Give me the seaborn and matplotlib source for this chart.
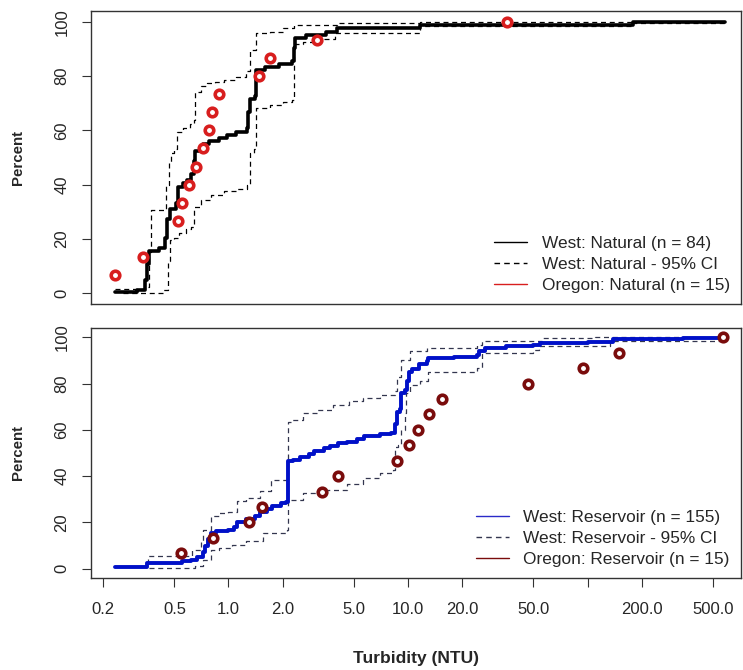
import numpy as np
import pandas as pd
import matplotlib
matplotlib.use("Agg")
import matplotlib.pyplot as plt
from matplotlib.lines import Line2D
import seaborn as sns

# ---------------- data ----------------
# Top panel: West Natural ECDF (n = 84) and 95% CI, Oregon Natural points (n = 15)
nat_x = [0.233, 0.31, 0.345, 0.352, 0.36, 0.41, 0.445, 0.455, 0.47, 0.51, 0.525, 0.56, 0.59,
         0.62, 0.645, 0.655, 0.70, 0.72, 0.78, 0.88, 0.98, 1.10, 1.27, 1.29, 1.31, 1.40, 1.42,
         1.6, 1.9, 2.27, 2.32, 2.36, 2.7, 3.5, 4.0, 11.7, 179.0, 585.0]
nat_p = [0.3, 1.2, 4.8, 10.7, 15.5, 16.7, 20.2, 27.4, 31.0, 33.3, 39.3, 40.5, 41.7,
         44.0, 48.8, 52.4, 53.6, 54.8, 56.0, 57.1, 58.3, 59.5, 60.7, 66.7, 71.4, 72.6, 82.1,
         83.3, 84.5, 85.7, 90.5, 94.0, 95.2, 96.4, 97.6, 98.8, 100.0, 100.0]
nat_hi_x = [0.233, 0.343, 0.36, 0.37, 0.44, 0.45, 0.465, 0.48, 0.50, 0.52, 0.56, 0.61, 0.645,
            0.65, 0.70, 0.76, 0.84, 0.95, 1.1, 1.25, 1.32, 1.42, 1.7, 2.0, 2.33, 4.0, 11.7, 585.0]
nat_hi_p = [1.7, 2.3, 15.0, 30.6, 31.2, 40.0, 48.0, 51.5, 53.0, 59.5, 61.0, 62.5, 63.8,
            74.3, 76.2, 77.4, 78.0, 78.6, 79.8, 81.7, 89.7, 95.8, 96.4, 97.6, 98.9, 99.5, 100.0, 100.0]
nat_lo_x = [0.26, 0.43, 0.46, 0.47, 0.50, 0.53, 0.58, 0.62, 0.645, 0.70, 0.80, 0.95, 1.1, 1.27,
            1.32, 1.38, 1.42, 1.7, 2.0, 2.27, 2.33, 2.6, 3.3, 3.9, 11.7, 179.0, 585.0]
nat_lo_p = [0.0, 1.0, 12.0, 19.5, 20.5, 22.0, 23.5, 24.5, 31.8, 34.3, 36.0, 37.5, 38.5, 39.8,
            51.6, 53.0, 68.1, 69.5, 70.5, 71.2, 92.0, 92.7, 93.5, 95.8, 98.3, 99.7, 99.7]
or_nat_x = [0.233, 0.335, 0.521, 0.553, 0.605, 0.659, 0.718, 0.781, 0.807, 0.885, 1.48, 1.70, 3.12, 35.6]
or_nat_p = [6.67, 13.33, 26.67, 33.33, 40.0, 46.67, 53.33, 60.0, 66.67, 73.33, 80.0, 86.67, 93.33, 100.0]

# Bottom panel: West Reservoir ECDF (n = 155) and 95% CI, Oregon Reservoir points (n = 15)
res_x = [0.233, 0.350, 0.55, 0.62, 0.67, 0.72, 0.74, 0.77, 0.80, 0.85, 1.0, 1.08, 1.12, 1.26,
         1.40, 1.5, 1.63, 1.75, 1.95, 2.1, 2.15, 2.3, 2.5, 2.8, 3.0, 3.4, 3.7, 4.1, 4.6, 5.2,
         5.7, 7.0, 8.0, 8.46, 8.7, 9.0, 9.2, 9.6, 9.9, 10.1, 10.5, 11.5, 12.7, 13.0, 18.0, 24.1,
         25.0, 27.0, 35.0, 50.0, 54.4, 100.0, 139.0, 342.0, 572.0]
res_p = [0.6, 2.6, 3.2, 3.9, 5.2, 7.1, 9.7, 12.9, 15.5, 16.1, 16.8, 18.1, 20.0, 21.3,
         22.6, 24.5, 25.8, 27.1, 28.4, 29.0, 46.5, 47.1, 48.4, 49.7, 51.0, 52.3, 52.9, 54.2, 54.8, 56.1,
         57.4, 58.1, 58.7, 62.6, 67.7, 69.0, 76.1, 77.4, 81.3, 85.2, 86.5, 88.4, 89.7, 91.0, 91.6, 92.3,
         94.2, 95.5, 96.1, 96.8, 97.4, 98.1, 99.4, 99.7, 100.0]
res_hi_x = [0.35, 0.358, 0.503, 0.63, 0.70, 0.72, 0.80, 0.88, 1.0, 1.11, 1.26, 1.5, 1.72, 2.12,
            2.15, 2.25, 2.6, 3.1, 3.8, 4.7, 5.6, 7.0, 8.46, 8.7, 9.2, 10.3, 12.7, 24.1, 25.9,
            55.6, 110.0, 572.0]
res_hi_p = [2.6, 5.3, 5.3, 8.2, 12.0, 16.8, 22.6, 24.1, 24.3, 29.1, 30.5, 33.4, 38.4, 40.6,
            63.6, 64.4, 67.3, 68.7, 70.8, 72.3, 73.7, 75.2, 76.6, 83.0, 90.3, 93.9, 95.3, 96.8, 98.2,
            99.6, 100.0, 100.0]
res_lo_x = [0.36, 0.65, 0.72, 0.80, 0.88, 1.04, 1.26, 1.55, 2.12, 2.15, 2.6, 3.3, 4.6, 5.6, 7.0,
            8.2, 8.5, 8.8, 9.2, 9.6, 9.8, 10.3, 11.6, 13.0, 24.1, 25.9, 50.0, 54.0, 134.0, 572.0]
res_lo_p = [0.4, 1.0, 3.9, 8.2, 8.9, 10.4, 11.8, 15.4, 16.8, 29.8, 32.7, 34.1, 36.5, 39.0, 41.3,
            42.8, 52.8, 53.6, 60.0, 67.3, 75.9, 79.5, 80.9, 85.2, 86.7, 93.2, 94.5, 96.3, 98.2, 98.2]
or_res_x = [0.542, 0.823, 1.30, 1.54, 3.31, 4.09, 8.65, 10.1, 11.3, 13.1, 15.4, 46.5, 94.8, 150.0, 572.0]
or_res_p = [6.67, 13.33, 20.0, 26.67, 33.33, 40.0, 46.67, 53.33, 60.0, 66.67, 73.33, 80.0, 86.67, 93.33, 100.0]

x_ticks = [0.2, 0.5, 1, 2, 5, 10, 20, 50, 100, 200, 500]
x_tick_labels = ["0.2", "0.5", "1.0", "2.0", "5.0", "10.0", "20.0", "50.0", "", "200.0", "500.0"]
y_ticks = [0, 20, 40, 60, 80, 100]

leg_top = ["West: Natural (n = 84)", "West: Natural - 95% CI", "Oregon: Natural (n = 15)"]
leg_bot = ["West: Reservoir (n = 155)", "West: Reservoir - 95% CI", "Oregon: Reservoir (n = 15)"]

# ---------------- style ----------------
sns.set_style("white")
plt.rcParams["font.family"] = ["Liberation Sans", "DejaVu Sans"]
plt.rcParams["font.size"] = 10.5

fig = plt.figure(figsize=(7.43, 6.70), dpi=100)
ax1 = fig.add_axes([91 / 743, 1 - 304 / 670, 650 / 743, 293 / 670])
ax2 = fig.add_axes([91 / 743, 1 - 578 / 670, 650 / 743, 250 / 670])

XLIM = (0.1715, 716.0)


def step(ax, xs, ps, **kw):
    df = pd.DataFrame({"x": xs, "p": ps})
    sns.lineplot(data=df, x="x", y="p", ax=ax, estimator=None, sort=False,
                 drawstyle="steps-post", legend=False, **kw)


def points(ax, xs, ps, color):
    df = pd.DataFrame({"x": xs, "p": ps})
    sns.scatterplot(data=df, x="x", y="p", ax=ax, marker="o", s=38,
                    facecolor="white", edgecolor=color, linewidth=2.6, legend=False, zorder=5)


for ax in (ax1, ax2):
    ax.set_xscale("log")

step(ax1, nat_hi_x, nat_hi_p, color="black", lw=0.9, linestyle=(0, (4, 3)))
step(ax1, nat_lo_x, nat_lo_p, color="black", lw=0.9, linestyle=(0, (4, 3)))
step(ax1, nat_x, nat_p, color="black", lw=2.6)
points(ax1, or_nat_x, or_nat_p, "#d81e1e")

dash_col = "#33364f"
step(ax2, res_hi_x, res_hi_p, color=dash_col, lw=0.9, linestyle=(0, (4, 3)))
step(ax2, res_lo_x, res_lo_p, color=dash_col, lw=0.9, linestyle=(0, (4, 3)))
step(ax2, res_x, res_p, color="#0010c8", lw=2.8)
points(ax2, or_res_x, or_res_p, "#7a0c0c")

for ax in (ax1, ax2):
    ax.set_xlim(*XLIM)
    ax.set_ylim(-4, 104)
    ax.set_yticks(y_ticks)
    ax.set_yticklabels([str(v) for v in y_ticks], rotation=90, va="center")
    ax.tick_params(axis="y", left=True, length=6.5, width=0.8, pad=9, labelsize=12, color="#333333")
    ax.minorticks_off()
    ax.set_ylabel("Percent", fontweight="bold", fontsize=10.8)
    ax.yaxis.set_label_coords(-0.101, 0.5)
    for s in ax.spines.values():
        s.set_visible(True)
        s.set_color("#333333")
        s.set_linewidth(1.0)
    ax.set_xlabel("")

ax1.set_xticks([])
ax1.tick_params(axis="x", which="both", length=0, labelbottom=False)

ax2.set_xticks(x_ticks)
ax2.set_xticklabels(x_tick_labels)
ax2.xaxis.set_minor_locator(matplotlib.ticker.NullLocator())
ax2.tick_params(axis="x", bottom=True, length=6.5, width=0.8, pad=11, labelsize=12, color="#333333")
ax2.set_xlabel("Turbidity (NTU)", fontweight="bold", fontsize=12.5)
ax2.xaxis.set_label_coords(0.5, -0.29)

h_top = [Line2D([], [], color="black", lw=1.0),
         Line2D([], [], color="black", lw=1.0, linestyle=(0, (4, 3))),
         Line2D([], [], color="#d81e1e", lw=1.0)]
h_bot = [Line2D([], [], color="#2a2ac8", lw=1.0),
         Line2D([], [], color=dash_col, lw=1.0, linestyle=(0, (4, 3))),
         Line2D([], [], color="#7a0c0c", lw=1.0)]
for ax, hs, labs in ((ax1, h_top, leg_top), (ax2, h_bot, leg_bot)):
    ax.legend(hs, labs, loc="lower right", frameon=False, fontsize=12.4,
              handlelength=1.9, handletextpad=0.85, labelspacing=0.35,
              borderaxespad=0.25, bbox_to_anchor=(1.0, 0.0))

fig.savefig("out.png", dpi=100)
